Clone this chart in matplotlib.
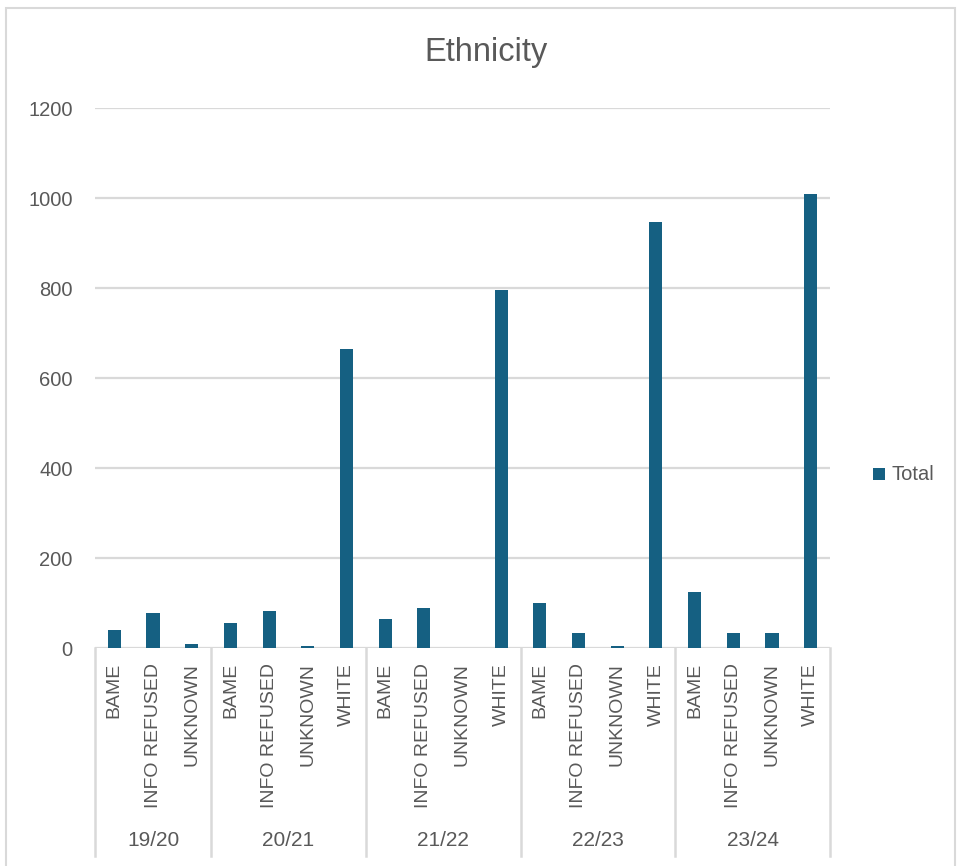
import matplotlib
matplotlib.use("Agg")
import matplotlib.pyplot as plt
from matplotlib.patches import Rectangle
from matplotlib.transforms import blended_transform_factory

plt.rcParams['font.family'] = ['Liberation Sans', 'DejaVu Sans']

title = "Ethnicity"
groups = ["19/20", "20/21", "21/22", "22/23", "23/24"]
group_categories = [
    ["BAME", "INFO REFUSED", "UNKNOWN"],
    ["BAME", "INFO REFUSED", "UNKNOWN", "WHITE"],
    ["BAME", "INFO REFUSED", "UNKNOWN", "WHITE"],
    ["BAME", "INFO REFUSED", "UNKNOWN", "WHITE"],
    ["BAME", "INFO REFUSED", "UNKNOWN", "WHITE"],
]
group_values = [
    [41, 78, 10],
    [55, 83, 4, 664],
    [65, 90, 0, 795],
    [101, 33, 4, 947],
    [124, 33, 33, 1009],
]
series_name = "Total"
yticks = [0, 200, 400, 600, 800, 1000, 1200]

BAR = "#156082"
TXT = "#595959"
GRID = "#D9D9D9"

W, H = 957, 866
fig = plt.figure(figsize=(W / 100, H / 100), dpi=100)
left, right, top, bottom = 95, 830, 108, 648
ax = fig.add_axes([left / W, 1 - bottom / H, (right - left) / W, (bottom - top) / H])

cats, vals = [], []
for gc, gv in zip(group_categories, group_values):
    cats.extend(gc)
    vals.extend(gv)
x = list(range(len(cats)))
ax.bar(x, vals, width=0.34, color=BAR, zorder=3, label=series_name)

ax.set_xlim(-0.5, len(cats) - 0.5)
ax.set_ylim(0, 1200)
ax.set_yticks(yticks)
ax.set_yticklabels([str(t) for t in yticks], fontsize=14.5, color=TXT)
ax.tick_params(axis='y', length=0, pad=16)
ax.set_xticks([])
for s in ax.spines.values():
    s.set_visible(False)
ax.grid(axis='y', color=GRID, linewidth=1.6, zorder=0)

trans = blended_transform_factory(ax.transData, ax.transAxes)
ph = bottom - top
# category labels
for xi, c in zip(x, cats):
    ax.text(xi, -(663 - bottom) / ph, c, rotation=90, ha='center', va='top',
            fontsize=14, color=TXT, transform=trans, clip_on=False)
# group separators and labels
sep_bottom = -(856 - bottom) / ph
pos = -0.5
bounds = [pos]
for g, gc in zip(groups, group_categories):
    start = pos
    pos += len(gc)
    bounds.append(pos)
    ax.text((start + pos) / 2, -(840 - bottom) / ph, g, ha='center', va='center',
            fontsize=15, color=TXT, transform=trans, clip_on=False)
for b in bounds:
    ax.plot([b, b], [0, sep_bottom], color=GRID, linewidth=1.8, transform=trans,
            clip_on=False, zorder=2)

# title
fig.text(486 / W, 1 - 53 / H, title, ha='center', va='center', fontsize=23.5, color=TXT)

# legend
fig.patches.append(Rectangle((873 / W, 1 - 480 / H), 12 / W, 12 / H, transform=fig.transFigure,
                             facecolor=BAR, edgecolor='none'))
fig.text(892 / W, 1 - 474 / H, series_name, ha='left', va='center', fontsize=14.5, color=TXT)

# chart border
fig.patches.append(Rectangle((6 / W, -0.05), (955 - 6) / W, 1 - 8 / H + 0.05, transform=fig.transFigure,
                             facecolor='none', edgecolor=GRID, linewidth=1.5))

fig.savefig("out.png", dpi=100)
